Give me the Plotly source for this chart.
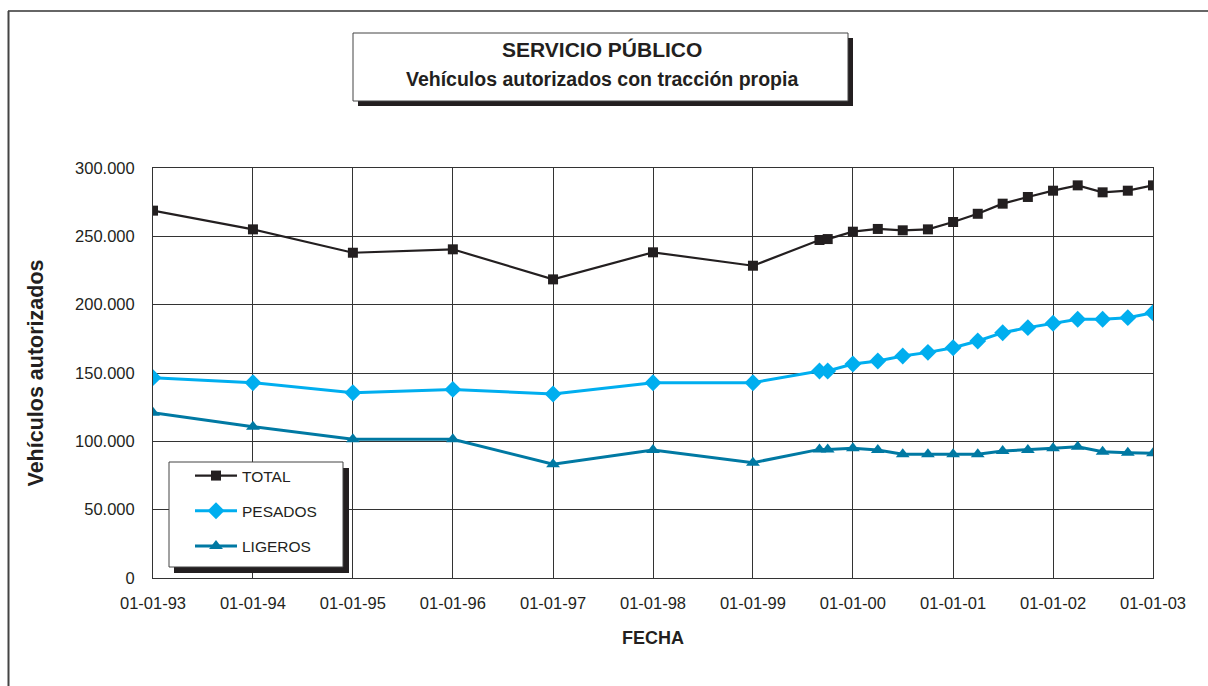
import plotly.graph_objects as go

# ---- data ----
fechas = ["1993-01-01", "1994-01-01", "1995-01-01", "1996-01-01", "1997-01-01",
          "1998-01-01", "1999-01-01", "1999-09-01", "1999-10-01", "2000-01-01",
          "2000-04-01", "2000-07-01", "2000-10-01", "2001-01-01", "2001-04-01",
          "2001-07-01", "2001-10-01", "2002-01-01", "2002-04-01", "2002-07-01",
          "2002-10-01", "2003-01-01"]
total = [268800, 255100, 238000, 240500, 218500, 238300, 228500, 247300, 248000,
         253400, 255400, 254400, 255100, 260500, 266500, 273900, 278800, 283400,
         287300, 282200, 283400, 287300]
pesados = [146600, 142900, 135600, 138000, 134600, 142900, 142900, 151500, 151500,
           156600, 158800, 162400, 165100, 168500, 173400, 179500, 183200, 186400,
           189300, 189300, 190500, 194100]
ligeros = [121000, 110700, 101500, 101500, 83200, 93700, 84400, 94100, 94100,
           94900, 93700, 90500, 90500, 90500, 90500, 92900, 93700, 94900, 96100,
           92400, 91700, 91200]

x_tickvals = ["1993-01-01", "1994-01-01", "1995-01-01", "1996-01-01", "1997-01-01",
              "1998-01-01", "1999-01-01", "2000-01-01", "2001-01-01", "2002-01-01",
              "2003-01-01"]
x_ticktext = ["01-01-93", "01-01-94", "01-01-95", "01-01-96", "01-01-97", "01-01-98",
              "01-01-99", "01-01-00", "01-01-01", "01-01-02", "01-01-03"]
y_tickvals = [0, 50000, 100000, 150000, 200000, 250000, 300000]
y_ticktext = ["0", "50.000", "100.000", "150.000", "200.000", "250.000", "300.000"]

FONT = "Liberation Sans, Arial, Helvetica, sans-serif"
TXT = "#231f20"
W, H = 1208, 686
L, R, T, B = 153, 55, 168, 108
PW, PH = W - L - R, H - T - B


def px(x):
    return (x - L) / PW


def py(y):
    return (H - B - y) / PH


fig = go.Figure()
fig.add_trace(go.Scatter(x=fechas, y=total, name="TOTAL", mode="lines+markers",
                         legendgroup="a",
                         line=dict(color="#231f20", width=2.2),
                         marker=dict(symbol="square", size=10, color="#231f20")))
fig.add_trace(go.Scatter(x=fechas, y=pesados, name="PESADOS", mode="lines+markers",
                         legendgroup="b",
                         line=dict(color="#00aeef", width=3),
                         marker=dict(symbol="diamond", size=13, color="#00aeef")))
fig.add_trace(go.Scatter(x=fechas, y=ligeros, name="LIGEROS", mode="lines+markers",
                         legendgroup="c",
                         line=dict(color="#0079a3", width=3),
                         marker=dict(symbol="triangle-up", size=12, color="#0079a3")))

shapes = []
# outer frame (top and left only visible)
shapes.append(dict(type="line", xref="paper", yref="paper", x0=px(8), x1=px(1210),
                   y0=py(11), y1=py(11), line=dict(color="#666666", width=2), layer="above"))
shapes.append(dict(type="line", xref="paper", yref="paper", x0=px(8.5), x1=px(8.5),
                   y0=py(11), y1=py(690), line=dict(color="#444444", width=2), layer="above"))
# title box with shadow
shapes.append(dict(type="rect", xref="paper", yref="paper", x0=px(358), x1=px(853),
                   y0=py(38), y1=py(106), fillcolor="#231f20", line=dict(width=0), layer="above"))
shapes.append(dict(type="rect", xref="paper", yref="paper", x0=px(353), x1=px(848),
                   y0=py(33), y1=py(101), fillcolor="white",
                   line=dict(color="#444444", width=1), layer="above"))
# legend box with shadow
shapes.append(dict(type="rect", xref="paper", yref="paper", x0=px(174), x1=px(349),
                   y0=py(468), y1=py(573), fillcolor="#231f20", line=dict(width=0), layer="above"))
shapes.append(dict(type="rect", xref="paper", yref="paper", x0=px(169), x1=px(343),
                   y0=py(462), y1=py(567), fillcolor="white",
                   line=dict(color="#444444", width=1), layer="above"))

annotations = [
    dict(text="<b>SERVICIO PÚBLICO</b>", xref="paper", yref="paper", x=px(602), y=py(50),
         xanchor="center", yanchor="middle", showarrow=False,
         font=dict(family=FONT, size=21, color=TXT)),
    dict(text="<b>Vehículos autorizados con tracción propia</b>", xref="paper", yref="paper",
         x=px(602), y=py(79), xanchor="center", yanchor="middle", showarrow=False,
         font=dict(family=FONT, size=19.5, color=TXT)),
]

fig.update_layout(
    width=W, height=H,
    margin=dict(l=L, r=R, t=T, b=B, autoexpand=False),
    paper_bgcolor="white", plot_bgcolor="white",
    font=dict(family=FONT, size=16, color=TXT),
    shapes=shapes, annotations=annotations,
    showlegend=True,
    legend=dict(x=px(190), y=py(459), xanchor="left", yanchor="top",
                bgcolor="rgba(0,0,0,0)", borderwidth=0, tracegroupgap=12,
                itemwidth=42,
                font=dict(family=FONT, size=15.5, color=TXT)),
    xaxis=dict(type="date", range=["1993-01-01", "2003-01-01"],
               tickvals=x_tickvals, ticktext=x_ticktext,
               showgrid=True, gridcolor="#333333", gridwidth=1,
               showline=True, linecolor="#333333", linewidth=1, mirror=True,
               ticks="", ticklabelstandoff=10, zeroline=False,
               title=dict(text="<b>FECHA</b>", standoff=20,
                          font=dict(family=FONT, size=18, color=TXT)),
               tickfont=dict(family=FONT, size=16.5, color=TXT)),
    yaxis=dict(range=[0, 300000], tickvals=y_tickvals, ticktext=y_ticktext,
               showgrid=True, gridcolor="#333333", gridwidth=1,
               showline=True, linecolor="#333333", linewidth=1, mirror=True,
               ticks="", ticklabelstandoff=14, zeroline=False,
               title=dict(text="<b>Vehículos autorizados</b>", standoff=25,
                          font=dict(family=FONT, size=21.5, color=TXT)),
               tickfont=dict(family=FONT, size=16.5, color=TXT)),
)

fig.write_html("out.html", config={"displayModeBar": False},
               post_script="document.body.style.margin='0';document.body.style.overflow='hidden';")
